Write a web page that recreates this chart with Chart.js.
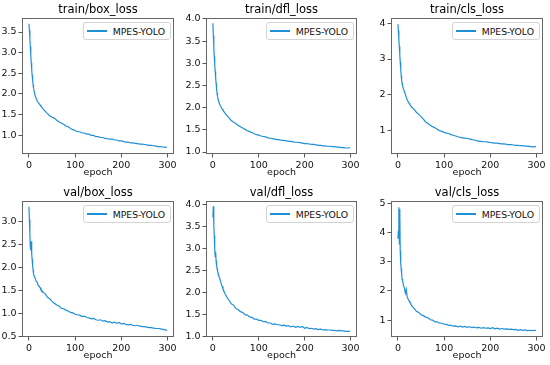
<!DOCTYPE html>
<html>
<head>
<meta charset="utf-8">
<script src="https://cdn.jsdelivr.net/npm/chart.js@4.4.0/dist/chart.umd.min.js"></script>
<style>
  body { margin: 0; background: #fff; width: 550px; height: 365px; position: relative; overflow: hidden; font-family: "DejaVu Sans", sans-serif; }
  .cell { position: absolute; }
  .legend {
    position: absolute; display: flex; align-items: center; box-sizing: border-box;
    height: 18px; padding: 0 5px 0 3px; background: #fff;
    border: 1px solid #d4d4d4; border-radius: 3px;
    font: 9.3px "DejaVu Sans", sans-serif; color: #111; white-space: nowrap;
  }
  .legend .swatch { display: inline-block; width: 20px; height: 1.4px; margin-right: 6px; }
</style>
</head>
<body>
<script>
// sampled epochs (same for every curve)
const epochs = [0,1,2,3,4,5,6,7,8,9,10,12,14,16,18,20,22,24,26,28,30,
  35,40,45,50,55,60,65,70,75,80,85,90,95,100,105,110,115,120,125,130,135,140,145,150,
  155,160,165,170,175,180,185,190,195,200,205,210,215,220,225,230,235,240,245,250,
  255,260,265,270,275,280,285,290,295,299];

const trainBoxLoss = [3.70,3.55,3.35,3.15,2.95,2.75,2.58,2.45,2.33,2.22,2.14,2.02,1.94,1.88,1.83,1.79,1.76,1.73,1.70,1.67,1.64,
  1.58,1.52,1.47,1.43,1.41,1.36,1.32,1.29,1.26,1.22,1.20,1.16,1.13,1.11,1.08,1.08,1.05,1.05,1.02,1.02,0.99,0.99,0.96,0.96,
  0.94,0.94,0.92,0.91,0.90,0.90,0.88,0.88,0.86,0.86,0.84,0.83,0.83,0.81,0.81,0.80,0.79,0.78,0.78,0.77,
  0.76,0.75,0.75,0.74,0.73,0.72,0.72,0.71,0.70,0.71];

const trainDflLoss = [3.90,3.62,3.37,3.15,2.97,2.82,2.68,2.55,2.43,2.33,2.26,2.16,2.10,2.05,2.01,1.97,1.94,1.91,1.88,1.85,1.83,
  1.77,1.71,1.67,1.64,1.60,1.57,1.54,1.51,1.48,1.46,1.44,1.41,1.39,1.38,1.36,1.35,1.34,1.32,1.31,1.30,1.29,1.28,1.28,1.26,
  1.26,1.25,1.24,1.24,1.23,1.22,1.22,1.21,1.20,1.19,1.19,1.18,1.17,1.17,1.16,1.15,1.15,1.14,1.14,1.13,
  1.13,1.12,1.12,1.11,1.11,1.10,1.10,1.09,1.09,1.10];

const trainClsLoss = [3.97,3.78,3.55,3.35,3.12,2.92,2.72,2.55,2.42,2.33,2.26,2.17,2.10,2.02,1.94,1.87,1.82,1.77,1.73,1.69,1.66,
  1.60,1.52,1.46,1.40,1.33,1.25,1.21,1.16,1.12,1.09,1.05,1.01,0.99,0.96,0.94,0.93,0.90,0.88,0.86,0.84,0.82,0.81,0.80,0.79,
  0.78,0.76,0.75,0.73,0.72,0.71,0.70,0.70,0.69,0.68,0.67,0.66,0.66,0.65,0.64,0.64,0.63,0.62,0.62,0.61,
  0.60,0.60,0.59,0.59,0.58,0.58,0.57,0.56,0.56,0.57];

const valBoxLoss = [3.33,3.05,2.75,2.45,2.38,2.58,2.30,2.18,2.05,1.95,1.87,1.80,1.76,1.70,1.69,1.62,1.60,1.57,1.52,1.51,1.47,
  1.44,1.36,1.33,1.27,1.23,1.19,1.17,1.12,1.11,1.08,1.06,1.03,1.02,0.99,0.98,0.97,0.94,0.95,0.92,0.91,0.89,0.90,0.87,0.86,
  0.87,0.84,0.85,0.82,0.83,0.80,0.82,0.79,0.81,0.78,0.79,0.77,0.76,0.77,0.75,0.74,0.75,0.73,0.72,0.72,
  0.71,0.70,0.70,0.69,0.68,0.68,0.67,0.66,0.65,0.64];

const valDflLoss = [3.72,3.97,3.55,3.30,3.00,2.82,2.93,2.72,2.62,2.55,2.50,2.42,2.34,2.28,2.20,2.14,2.08,2.03,1.98,1.94,1.90,
  1.82,1.74,1.71,1.63,1.61,1.56,1.54,1.49,1.48,1.44,1.43,1.39,1.39,1.36,1.36,1.33,1.33,1.30,1.30,1.27,1.28,1.26,1.26,1.24,
  1.25,1.23,1.24,1.21,1.23,1.20,1.22,1.20,1.22,1.18,1.20,1.17,1.18,1.16,1.17,1.15,1.16,1.14,1.15,1.14,
  1.14,1.13,1.13,1.12,1.13,1.12,1.12,1.11,1.11,1.11];

const valClsLoss = [3.78,4.05,4.86,3.60,4.80,3.35,2.95,2.75,2.58,2.40,2.35,2.18,2.10,1.92,2.05,1.80,1.72,1.66,1.60,1.55,1.48,
  1.40,1.30,1.26,1.18,1.15,1.10,1.08,1.01,1.00,0.94,0.94,0.89,0.89,0.86,0.85,0.82,0.82,0.79,0.80,0.77,0.79,0.76,0.78,0.75,
  0.77,0.74,0.76,0.73,0.75,0.72,0.74,0.72,0.73,0.71,0.74,0.70,0.72,0.69,0.71,0.69,0.70,0.68,0.69,0.67,
  0.68,0.65,0.67,0.65,0.66,0.64,0.65,0.64,0.65,0.64];

const titles = ['train/box_loss','train/dfl_loss','train/cls_loss','val/box_loss','val/dfl_loss','val/cls_loss'];
const seriesList = [trainBoxLoss, trainDflLoss, trainClsLoss, valBoxLoss, valDflLoss, valClsLoss];
const seriesName = 'MPES-YOLO';
const xLabel = 'epoch';

const xTickLabels = ['0','100','200','300'];
const yTickLabels = [
  ['1.0','1.5','2.0','2.5','3.0','3.5'],
  ['1.0','1.5','2.0','2.5','3.0','3.5','4.0'],
  ['1','2','3','4'],
  ['0.5','1.0','1.5','2.0','2.5','3.0'],
  ['1.0','1.5','2.0','2.5','3.0','3.5','4.0'],
  ['1','2','3','4','5']
];

// axis limits (matplotlib-like 5% margins)
const yRanges = [[0.54,3.84],[0.955,4.02],[0.36,4.14],[0.495,3.455],[0.98,4.09],[0.42,5.07]];
const xRange = [-15, 314];

// grid cell geometry
const colLeft = [0,183,366], colWidth = [183,183,184];
const rowTop = [0,183], rowHeight = 182;
const plotLeft = [22,23,25], plotRightPad = [9,9,7];

const lineColor = '#1f8fd6';
const font = '"DejaVu Sans", sans-serif';

const frame = {
  id: 'frame',
  afterDraw(chart) {
    const {ctx, chartArea: a} = chart;
    ctx.save();
    ctx.strokeStyle = '#666';
    ctx.lineWidth = 1;
    ctx.strokeRect(Math.round(a.left) + 0.5, Math.round(a.top) + 0.5,
      Math.round(a.right - a.left) - 1, Math.round(a.bottom - a.top) - 1);
    ctx.restore();
  }
};

seriesList.forEach((vals, i) => {
  const col = i % 3, row = Math.floor(i / 3);
  const wrap = document.createElement('div');
  wrap.className = 'cell';
  wrap.style.left = colLeft[col] + 'px';
  wrap.style.top = rowTop[row] + 'px';
  const canvas = document.createElement('canvas');
  canvas.width = colWidth[col];
  canvas.height = rowHeight;
  canvas.style.width = colWidth[col] + 'px';
  canvas.style.height = rowHeight + 'px';
  wrap.appendChild(canvas);
  document.body.appendChild(wrap);

  const yVals = yTickLabels[i].map(parseFloat);
  const xVals = xTickLabels.map(parseFloat);

  const chart = new Chart(canvas, {
    type: 'line',
    data: {
      datasets: [{
        label: seriesName,
        data: epochs.map((e, k) => ({x: e, y: vals[k]})),
        borderColor: lineColor,
        borderWidth: 1.2,
        pointRadius: 0,
        tension: 0,
        fill: false
      }]
    },
    options: {
      responsive: false,
      animation: false,
      events: [],
      layout: {padding: {left: 0, right: plotRightPad[col], top: 0, bottom: 0}},
      plugins: {
        legend: {display: false},
        tooltip: {enabled: false},
        title: {
          display: true, text: titles[i], color: '#000', fullSize: false,
          font: {family: font, size: 11.5, weight: 'normal'},
          padding: {top: 3.1, bottom: 1.1}
        }
      },
      scales: {
        x: {
          type: 'linear', min: xRange[0], max: xRange[1],
          afterBuildTicks: s => { s.ticks = xVals.map(v => ({value: v})); },
          afterFit: s => { s.height = 28; },
          ticks: {
            autoSkip: false, maxRotation: 0, padding: 2, color: '#111',
            font: {family: font, size: 9.5},
            callback: (v, k) => xTickLabels[k]
          },
          grid: {drawOnChartArea: false, drawTicks: true, tickLength: 3.5, color: '#555'},
          border: {display: false},
          title: {
            display: true, text: xLabel, color: '#111',
            font: {family: font, size: 9.5}, padding: {top: 0, bottom: 3.3}
          }
        },
        y: {
          type: 'linear', min: yRanges[i][0], max: yRanges[i][1],
          afterBuildTicks: s => { s.ticks = yVals.map(v => ({value: v})); },
          afterFit: s => { s.width = plotLeft[col]; },
          ticks: {
            autoSkip: false, padding: 2, color: '#111',
            font: {family: font, size: 9.5},
            callback: (v, k) => yTickLabels[i][k]
          },
          grid: {drawOnChartArea: false, drawTicks: true, tickLength: 3.5, color: '#555'},
          border: {display: false}
        }
      }
    },
    plugins: [frame]
  });

  // matplotlib-style legend box in the upper right of the plot
  const a = chart.chartArea;
  const leg = document.createElement('div');
  leg.className = 'legend';
  const sw = document.createElement('span');
  sw.className = 'swatch';
  sw.style.background = lineColor;
  leg.appendChild(sw);
  leg.appendChild(document.createTextNode(seriesName));
  leg.style.top = (a.top + 4) + 'px';
  leg.style.right = (colWidth[col] - a.right + 3) + 'px';
  wrap.appendChild(leg);
});
</script>
</body>
</html>
